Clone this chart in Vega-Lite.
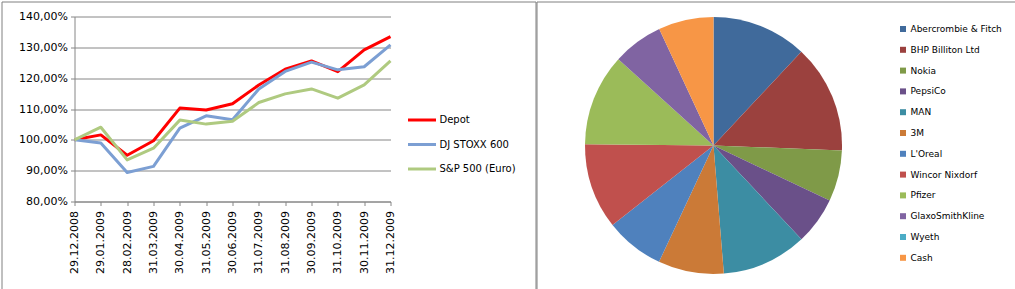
{
  "$schema": "https://vega.github.io/schema/vega-lite/v6.json",
  "padding": {"left": 0.5, "top": 0.5, "right": 0, "bottom": 0},
  "spacing": -4,
  "background": "white",
  "config": {
    "view": {"stroke": "#808080", "strokeWidth": 1},
    "font": "DejaVu Sans",
    "concat": {"spacing": -4}
  },
  "resolve": {"scale": {"color": "independent"}, "legend": {"color": "independent"}},
  "datasets": {
    "lines": [
      {"date": "29.12.2008", "series": "Depot", "value": 100.0},
      {"date": "29.01.2009", "series": "Depot", "value": 101.6},
      {"date": "28.02.2009", "series": "Depot", "value": 95.0},
      {"date": "31.03.2009", "series": "Depot", "value": 99.7},
      {"date": "30.04.2009", "series": "Depot", "value": 110.3},
      {"date": "31.05.2009", "series": "Depot", "value": 109.7},
      {"date": "30.06.2009", "series": "Depot", "value": 111.7},
      {"date": "31.07.2009", "series": "Depot", "value": 117.8},
      {"date": "31.08.2009", "series": "Depot", "value": 122.9},
      {"date": "30.09.2009", "series": "Depot", "value": 125.6},
      {"date": "31.10.2009", "series": "Depot", "value": 122.1},
      {"date": "30.11.2009", "series": "Depot", "value": 129.2},
      {"date": "31.12.2009", "series": "Depot", "value": 133.5},
      {"date": "29.12.2008", "series": "DJ STOXX  600", "value": 100.0},
      {"date": "29.01.2009", "series": "DJ STOXX  600", "value": 99.0},
      {"date": "28.02.2009", "series": "DJ STOXX  600", "value": 89.4},
      {"date": "31.03.2009", "series": "DJ STOXX  600", "value": 91.4},
      {"date": "30.04.2009", "series": "DJ STOXX  600", "value": 103.8},
      {"date": "31.05.2009", "series": "DJ STOXX  600", "value": 107.8},
      {"date": "30.06.2009", "series": "DJ STOXX  600", "value": 106.5},
      {"date": "31.07.2009", "series": "DJ STOXX  600", "value": 116.5},
      {"date": "31.08.2009", "series": "DJ STOXX  600", "value": 122.2},
      {"date": "30.09.2009", "series": "DJ STOXX  600", "value": 125.2},
      {"date": "31.10.2009", "series": "DJ STOXX  600", "value": 122.7},
      {"date": "30.11.2009", "series": "DJ STOXX  600", "value": 123.7},
      {"date": "31.12.2009", "series": "DJ STOXX  600", "value": 130.8},
      {"date": "29.12.2008", "series": "S&P 500 (Euro)", "value": 100.0},
      {"date": "29.01.2009", "series": "S&P 500 (Euro)", "value": 104.1},
      {"date": "28.02.2009", "series": "S&P 500 (Euro)", "value": 93.5},
      {"date": "31.03.2009", "series": "S&P 500 (Euro)", "value": 97.3},
      {"date": "30.04.2009", "series": "S&P 500 (Euro)", "value": 106.4},
      {"date": "31.05.2009", "series": "S&P 500 (Euro)", "value": 105.1},
      {"date": "30.06.2009", "series": "S&P 500 (Euro)", "value": 106.0},
      {"date": "31.07.2009", "series": "S&P 500 (Euro)", "value": 112.1},
      {"date": "31.08.2009", "series": "S&P 500 (Euro)", "value": 114.9},
      {"date": "30.09.2009", "series": "S&P 500 (Euro)", "value": 116.5},
      {"date": "31.10.2009", "series": "S&P 500 (Euro)", "value": 113.5},
      {"date": "30.11.2009", "series": "S&P 500 (Euro)", "value": 117.8},
      {"date": "31.12.2009", "series": "S&P 500 (Euro)", "value": 125.6}
    ],
    "pie": [
      {"name": "Abercrombie & Fitch", "pct": 11.97, "idx": 1},
      {"name": "BHP Billiton Ltd", "pct": 13.64, "idx": 2},
      {"name": "Nokia", "pct": 6.42, "idx": 3},
      {"name": "PepsiCo", "pct": 5.97, "idx": 4},
      {"name": "MAN", "pct": 10.72, "idx": 5},
      {"name": "3M", "pct": 8.25, "idx": 6},
      {"name": "L'Oreal", "pct": 7.42, "idx": 7},
      {"name": "Wincor Nixdorf", "pct": 10.78, "idx": 8},
      {"name": "Pfizer", "pct": 11.56, "idx": 9},
      {"name": "GlaxoSmithKline", "pct": 6.33, "idx": 10},
      {"name": "Wyeth", "pct": 0, "idx": 11},
      {"name": "Cash", "pct": 6.94, "idx": 12}
    ]
  },
  "hconcat": [
    {
      "width": 534,
      "height": 288,
      "data": {"name": "lines"},
      "mark": {"type": "line", "strokeWidth": 3, "strokeJoin": "round"},
      "encoding": {
        "x": {
          "field": "date", "type": "ordinal", "sort": null,
          "scale": {"type": "point", "range": [73, 389], "padding": 0},
          "axis": {
            "title": null, "offset": -88, "labelAngle": -90, "labelFontSize": 11,
            "labelColor": "#000000", "labelPadding": 5, "domainColor": "#868686",
            "tickColor": "#868686", "tickSize": 4, "grid": false
          }
        },
        "y": {
          "field": "value", "type": "quantitative",
          "scale": {"domain": [80, 140], "range": [200, 15], "zero": false, "nice": false},
          "axis": {
            "title": null, "offset": -73, "values": [80, 90, 100, 110, 120, 130, 140],
            "labelExpr": "replace(format(datum.value, '.2f'), '.', ',') + '%'",
            "labelFontSize": 11, "labelColor": "#000000", "labelPadding": 3,
            "domainColor": "#868686", "tickColor": "#868686", "tickSize": 4,
            "grid": true, "gridColor": "#868686", "gridOpacity": 1
          }
        },
        "color": {
          "field": "series", "type": "nominal",
          "scale": {
            "domain": ["Depot", "DJ STOXX  600", "S&P 500 (Euro)"],
            "range": ["#FF0000", "#7C9FD3", "#AFCA80"]
          },
          "legend": {
            "orient": "none", "legendX": 405, "legendY": 103, "title": null,
            "symbolType": "stroke", "symbolSize": 784, "symbolStrokeWidth": 3,
            "labelFontSize": 10, "labelColor": "#000000", "labelOffset": 2,
            "rowPadding": 2.5, "padding": 0
          }
        }
      }
    },
    {
      "width": 480,
      "height": 288,
      "view": {"stroke": "#808080", "strokeWidth": 1},
      "data": {"name": "pie"},
      "mark": {"type": "arc", "outerRadius": 128.5, "x": 177},
      "encoding": {
        "theta": {"field": "pct", "type": "quantitative", "stack": true},
        "order": {"field": "idx", "type": "quantitative"},
        "color": {
          "field": "name", "type": "nominal",
          "scale": {
            "domain": ["Abercrombie & Fitch", "BHP Billiton Ltd", "Nokia", "PepsiCo", "MAN", "3M", "L'Oreal", "Wincor Nixdorf", "Pfizer", "GlaxoSmithKline", "Wyeth", "Cash"],
            "range": ["#406A9B", "#9B413E", "#7F9A48", "#6A5089", "#3C8DA3", "#CB7A37", "#4F81BD", "#C0504D", "#9BBB59", "#8064A2", "#4BACC6", "#F79646"]
          },
          "legend": {
            "orient": "none", "legendX": 362, "legendY": 23, "title": null,
            "symbolType": "square", "symbolSize": 36, "symbolStrokeWidth": 0,
            "labelFontSize": 9, "labelColor": "#000000", "labelOffset": 3,
            "rowPadding": 10.8, "padding": 0
          }
        }
      }
    }
  ]
}
